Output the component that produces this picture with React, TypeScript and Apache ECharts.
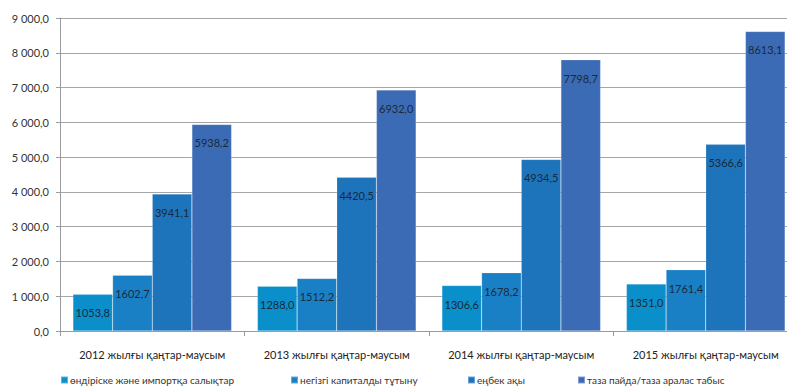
import React, { useEffect, useRef } from "react";
import * as echarts from "echarts";

const categories = [
  "2012 жылғы қаңтар-маусым",
  "2013 жылғы қаңтар-маусым",
  "2014 жылғы қаңтар-маусым",
  "2015 жылғы қаңтар-маусым",
];
const seriesNames = [
  "өндіріске және импортқа салықтар",
  "негізгі капиталды тұтыну",
  "еңбек ақы",
  "таза пайда/таза аралас табыс",
];
const taxes = [1053.8, 1288.0, 1306.6, 1351.0];
const capital = [1602.7, 1512.2, 1678.2, 1761.4];
const wages = [3941.1, 4420.5, 4934.5, 5366.6];
const profit = [5938.2, 6932.0, 7798.7, 8613.1];
const colors = ["#0A8FCB", "#1A80C6", "#1D74BB", "#3C6BB5"];
const legendLeft = [60, 290, 467, 577];

const FONT = "Lato, 'Open Sans', sans-serif";

function fmtAxis(v: number): string {
  const s = v.toFixed(1).replace(".", ",");
  const [i, d] = s.split(",");
  const withSp = i.replace(/\B(?=(\d{3})+(?!\d))/g, " ");
  return withSp + "," + d;
}

export default function App() {
  const ref = useRef<HTMLDivElement>(null);
  useEffect(() => {
    if (!ref.current) return;
    const chart = echarts.init(ref.current, undefined, { renderer: "svg" });
    const data = [taxes, capital, wages, profit];
    chart.setOption({
      animation: false,
      textStyle: { fontFamily: FONT },
      grid: { left: 60, width: 738, top: 18, height: 313, containLabel: false, outerBoundsMode: "none" },
      legend: seriesNames.map((n, i) => ({
        data: [n],
        left: legendLeft[i],
        top: 375,
        itemWidth: 7,
        itemHeight: 7,
        itemGap: 4,
        icon: "rect",
        padding: 0,
        textStyle: { fontSize: 10, color: "#333", fontFamily: FONT, padding: [0, 0, 0, -3] },
      })),
      xAxis: {
        type: "category",
        data: categories,
        axisLine: { lineStyle: { color: "#9a9a9a", width: 1 } },
        axisTick: { show: true, length: 5, lineStyle: { color: "#9a9a9a" } },
        axisLabel: { color: "#222", fontSize: 11, margin: 18, fontFamily: FONT, interval: 0 },
      },
      yAxis: {
        type: "value",
        min: 0,
        max: 9000,
        interval: 1000,
        axisLine: { show: true, lineStyle: { color: "#9a9a9a" } },
        axisTick: { show: true, length: 4, lineStyle: { color: "#9a9a9a" } },
        splitLine: { lineStyle: { color: "#a6a6a6", width: 1 } },
        axisLabel: {
          color: "#333",
          fontSize: 11,
          margin: 11,
          fontFamily: FONT,
          formatter: (v: number) => fmtAxis(v),
        },
      },
      series: seriesNames.map((n, i) => ({
        name: n,
        type: "bar",
        data: data[i],
        barGap: "0%",
        barCategoryGap: "14%",
        itemStyle: { color: colors[i], borderColor: "rgba(255,255,255,0.35)", borderWidth: 0.5 },
        label: {
          show: true,
          position: "insideTop",
          distance: 13,
          color: "#1a2a3a",
          fontSize: 11,
          fontFamily: FONT,
          formatter: (p: any) => Number(p.value).toFixed(1).replace(".", ","),
        },
      })),
    });
    return () => chart.dispose();
  }, []);
  return <div ref={ref} style={{ width: 787, height: 389, position: "absolute", left: 0, top: 0 }} />;
}
